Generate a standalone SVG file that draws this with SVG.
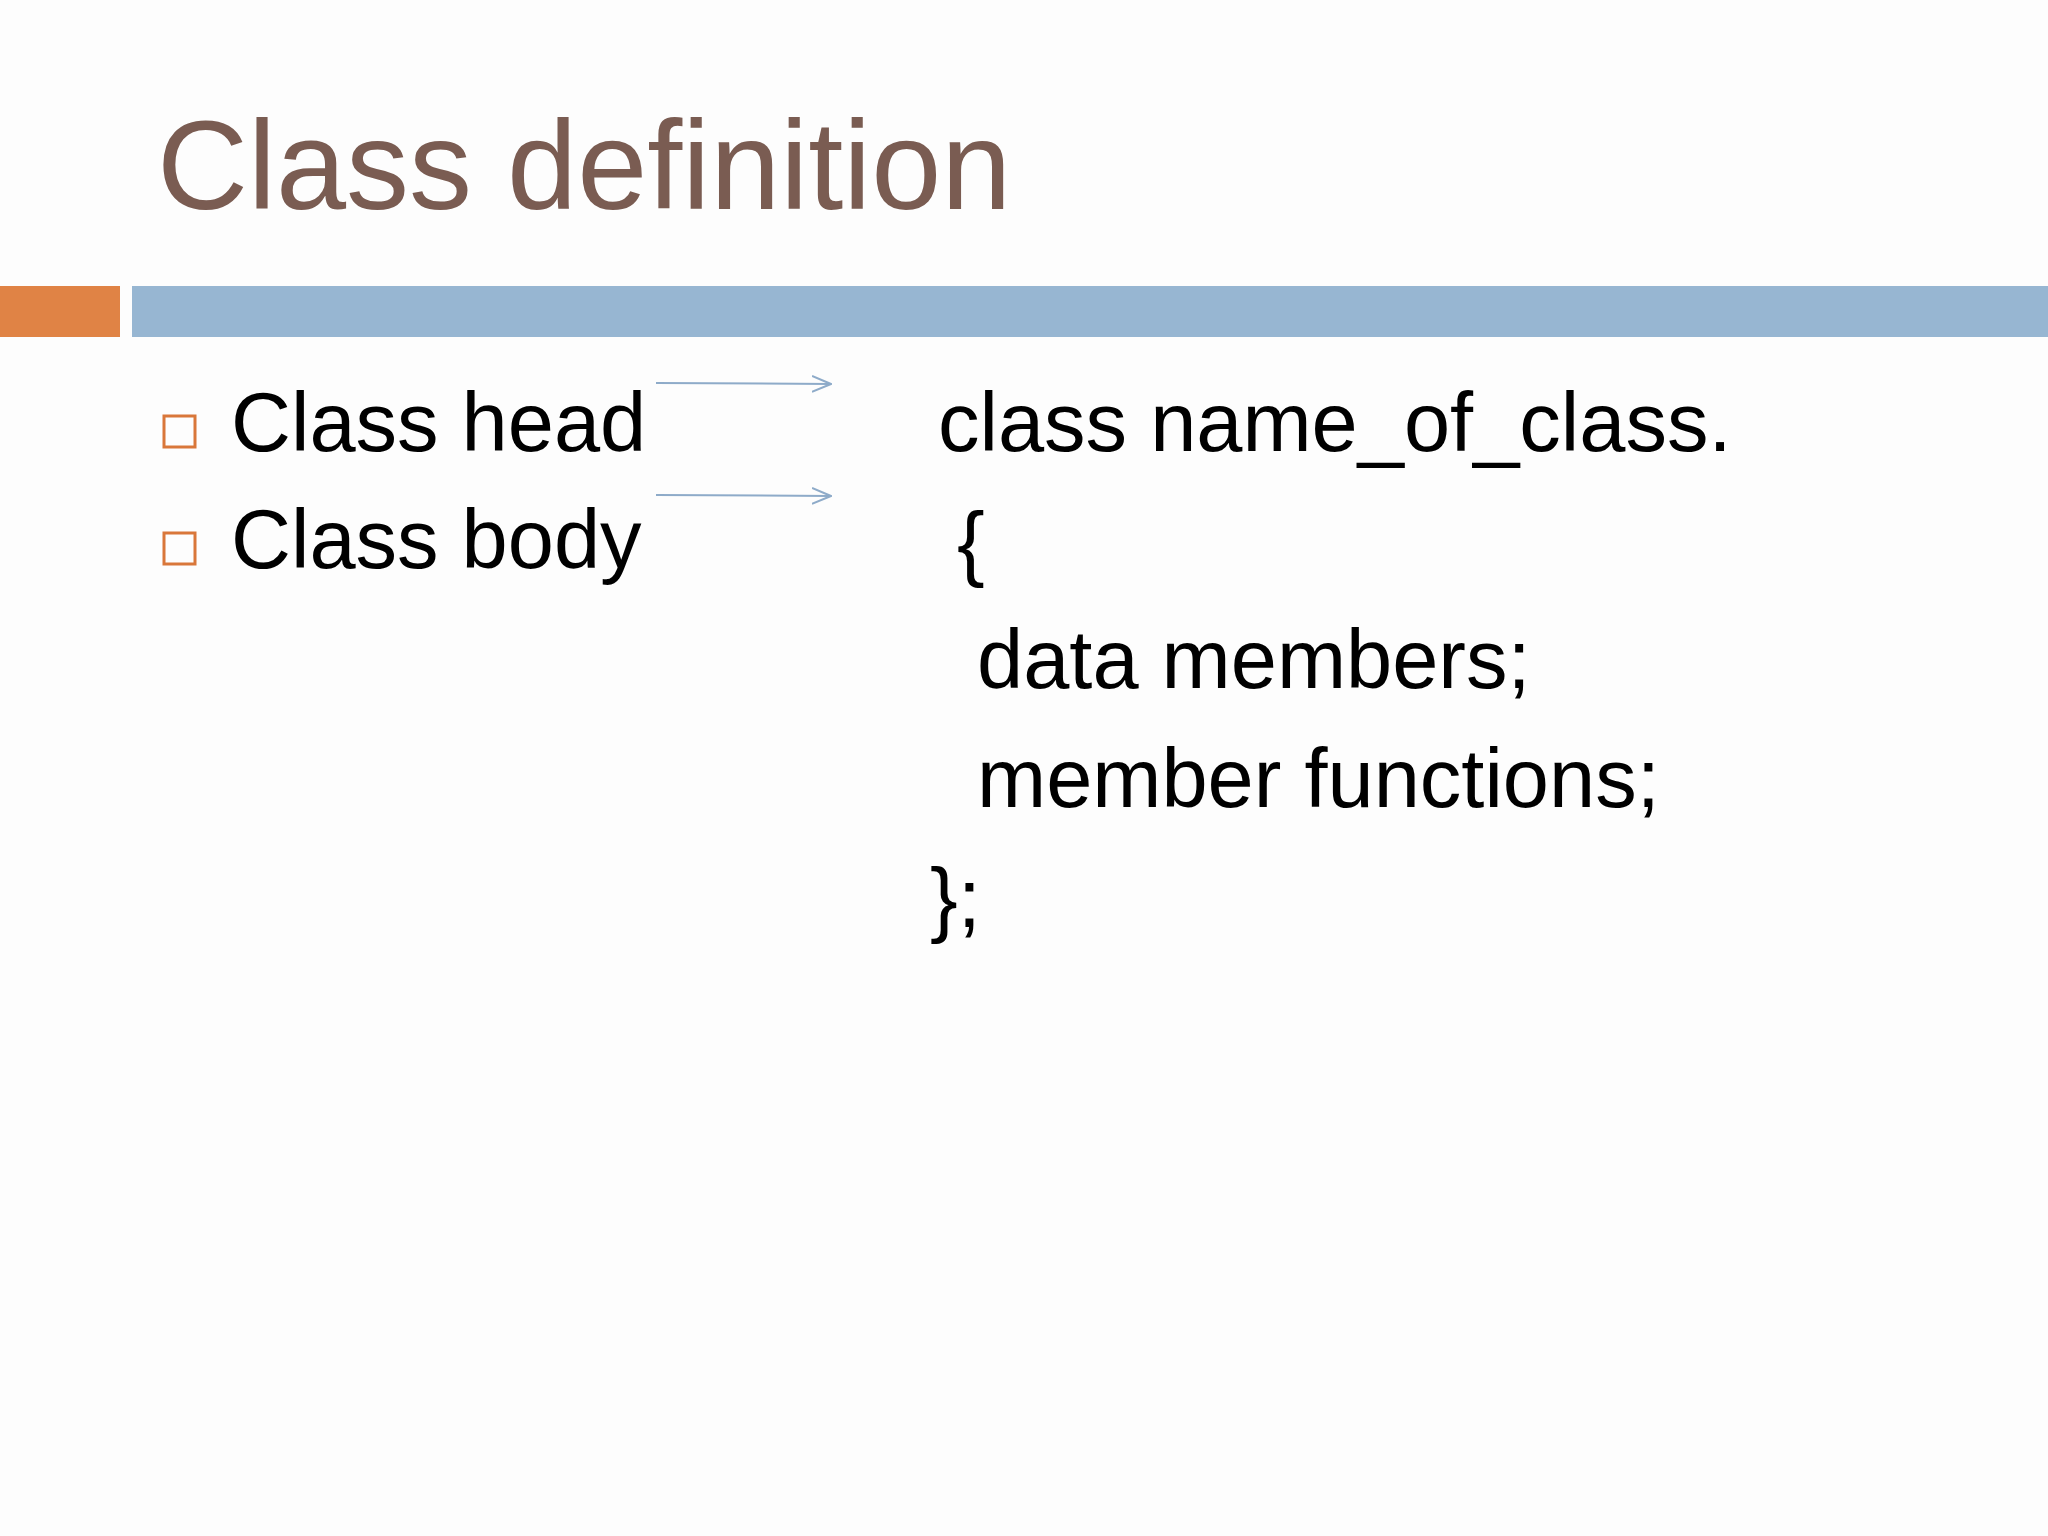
<svg xmlns="http://www.w3.org/2000/svg" width="2048" height="1536" viewBox="0 0 2048 1536">
<defs>
<style>
.t{font-family:"Liberation Sans",Arial,sans-serif;fill:#000;font-size:83px}
.b{fill:none;stroke:#d9773a;stroke-width:3}
.c{stroke:#8eabc9;stroke-width:2;fill:none}
</style>
<marker id="a" viewBox="0 0 20 20" refX="19" refY="10" markerWidth="20" markerHeight="20" markerUnits="userSpaceOnUse" orient="auto"><path d="M0,2 L19,10 L0,18" fill="none" stroke="#8eabc9" stroke-width="2"/></marker>
</defs>
<rect width="2048" height="1536" fill="#fdfdfd"/>
<g id="title"><text x="157" y="209" font-family="Liberation Sans,Arial,sans-serif" font-size="126" fill="#7a5c52">Class definition</text></g>
<g id="bars"><rect x="0" y="286" width="120" height="51" fill="#e08345"/><rect x="132" y="286" width="1916" height="51" fill="#97b6d2"/></g>
<g id="bullet1"><rect class="b" x="164" y="416" width="31" height="31"/><text class="t" x="231" y="451">Class head</text></g>
<g id="bullet2"><rect class="b" x="164" y="533" width="31" height="31"/><text class="t" x="231" y="568">Class body</text></g>
<g id="connectors"><line class="c" x1="656" y1="383" x2="831" y2="384" marker-end="url(#a)"/><line class="c" x1="656" y1="495" x2="831" y2="496" marker-end="url(#a)"/></g>
<g id="code">
<text class="t" x="938" y="451">class name_of_class.</text>
<text class="t" x="957" y="571">{</text>
<text class="t" x="977" y="688">data members;</text>
<text class="t" x="977" y="807">member functions;</text>
<text class="t" x="930" y="927">};</text>
</g>
</svg>
